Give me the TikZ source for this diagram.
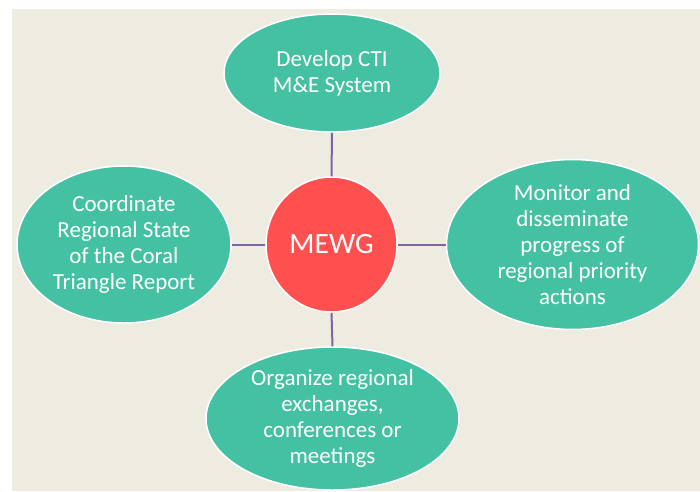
\documentclass[tikz,border=0pt]{standalone}
\usepackage{fontspec}
\setmainfont{Carlito}
\usetikzlibrary{shapes.geometric}
\definecolor{bgtan}{HTML}{EEEBE1}
\definecolor{tealfill}{HTML}{44C1A3}
\definecolor{redfill}{HTML}{FF5050}
\definecolor{linkpurple}{HTML}{8064A2}
\tikzset{
  bubble/.style={ellipse, fill=tealfill, draw=white, line width=1.5pt, inner sep=0pt,
    text=white, align=center, font=\fontsize{23}{26}\selectfont},
  hub/.style={ellipse, fill=redfill, draw=white, line width=1.5pt, inner sep=0pt},
  hublabel/.style={text=white, inner sep=0pt, font=\fontsize{29.5}{32}\selectfont},
  link/.style={draw=linkpurple, line width=2pt}
}
\begin{document}
\begin{tikzpicture}[x=1pt,y=-1pt]
\useasboundingbox (0,0) rectangle (700,491);
\fill[white] (0,0) rectangle (700,491);
\fill[bgtan] (12,9) rectangle (700,491);
\node[hub, minimum width=131pt, minimum height=135pt] (mewg) at (331.5,244.5) {};
\node[hublabel] (mewglabel) at (331.5,244.5) {MEWG};
\node[bubble, minimum width=216pt, minimum height=118pt] (top) at (332,73) {Develop CTI\\M\&E System};
\node[bubble, minimum width=214pt, minimum height=157pt] (left) at (124,244.5) {Coordinate\\Regional State\\of the Coral\\Triangle Report};
\node[bubble, minimum width=252pt, minimum height=157pt] (right) at (572.5,244.5) {Monitor and\\disseminate\\progress of\\regional priority\\actions};
\node[bubble, minimum width=253pt, minimum height=143pt] (bottom) at (332.5,418.5) {Organize regional\\exchanges,\\conferences or\\meetings};
\draw[link] (top.south) -- (mewg.north);
\draw[link] (mewg.south) -- (bottom.north);
\draw[link] (left.east) -- (mewg.west);
\draw[link] (mewg.east) -- (right.west);
\end{tikzpicture}
\end{document}
